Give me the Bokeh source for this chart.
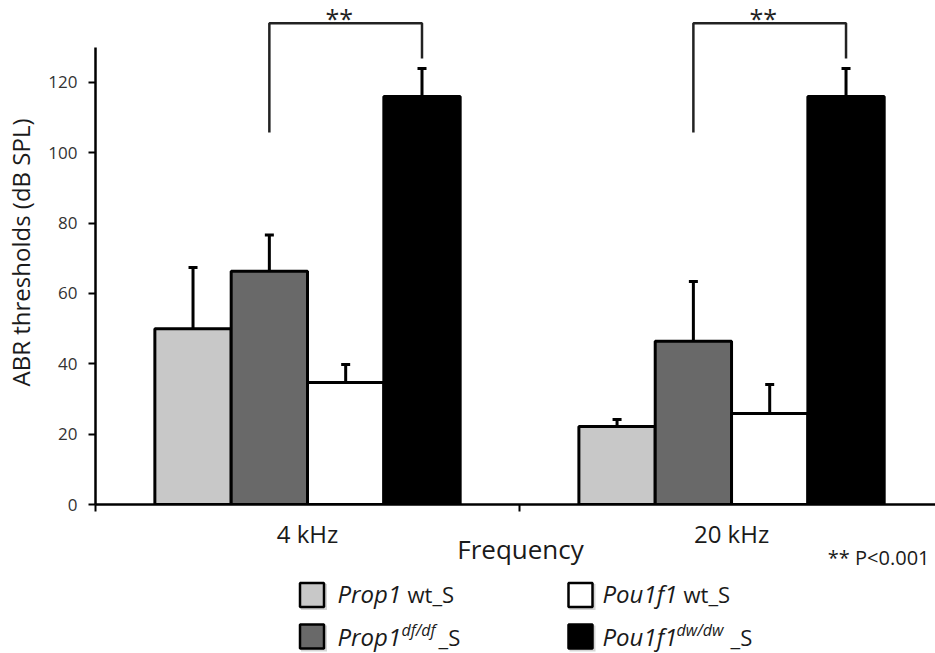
from bokeh.plotting import figure
from bokeh.models import Range1d, FixedTicker, ColumnDataSource, Whisker, TeeHead
from bokeh.layouts import column
from bokeh.embed import file_html
from bokeh.resources import INLINE
from bokeh.core.properties import value

# ---------------- data ----------------
frequencies = ["4 kHz", "20 kHz"]
series_names = ["Prop1 wt_S", "Prop1 df/df_S", "Pou1f1 wt_S", "Pou1f1 dw/dw_S"]
prop1_wt = [50.0, 22.2]
prop1_wt_err = [17.4, 2.0]
prop1_df = [66.3, 46.4]
prop1_df_err = [10.3, 17.0]
pou1f1_wt = [34.7, 25.9]
pou1f1_wt_err = [5.1, 8.2]
pou1f1_dw = [116.0, 116.0]
pou1f1_dw_err = [8.0, 8.0]
y_ticks = [0, 20, 40, 60, 80, 100, 120]
sig_text = "**"
p_note = "** P<0.001"
x_title = "Frequency"
y_title = "ABR thresholds (dB SPL)"
# significance bracket (data units): left leg bottom, top, right leg bottom
bracket_left_bottom = 105.8
bracket_top = 136.8
bracket_right_bottom = 126.8

values = [prop1_wt, prop1_df, pou1f1_wt, pou1f1_dw]
errors = [prop1_wt_err, prop1_df_err, pou1f1_wt_err, pou1f1_dw_err]

# ---------------- style / layout ----------------
FONT = "Open Sans"
TXT = "#1a1a1a"
colors = ["#c8c8c8", "#696969", "#ffffff", "#000000"]
offsets = [-0.27, -0.09, 0.09, 0.27]
bar_width = 0.18
n_cat = len(frequencies)
centers = [i + 0.5 for i in range(n_cat)]
boundaries = [float(i) for i in range(n_cat + 1)]

W = 935
FRAME_L = 95
TICK_OUT = 7
BOTTOM = 12            # room below the axis line (ticks + the "0" label)
MAIN_H = 504 + BOTTOM
FOOT_H = 653 - MAIN_H
X_END = 1.981
PX_PER_X = (W - FRAME_L) / X_END


def px_to_x(px):
    """convert a page pixel column (layout only) into the shared x data scale"""
    return (px - FRAME_L) / PX_PER_X


xr = Range1d(0, X_END)
p = figure(width=W, height=MAIN_H, x_range=xr, y_range=Range1d(0, 143.3),
           output_backend="svg", toolbar_location=None,
           min_border_left=FRAME_L, min_border_right=0, min_border_top=0, min_border_bottom=BOTTOM)
p.outline_line_color = None
p.xgrid.visible = False
p.ygrid.visible = False

for i in range(4):
    xs = [c + offsets[i] for c in centers]
    src = ColumnDataSource(dict(x=xs, top=values[i],
                                upper=[v + e for v, e in zip(values[i], errors[i])]))
    p.vbar(x="x", top="top", width=bar_width, source=src, fill_color=colors[i],
           line_color="black", line_width=3)
    p.add_layout(Whisker(base="x", lower="top", upper="upper", source=src,
                         line_width=3, line_color="black",
                         upper_head=TeeHead(size=9, line_width=3, line_color="black"),
                         lower_head=None, level="glyph"))

# significance brackets between series 2 and series 4 in each group
bx = [[c + offsets[1], c + offsets[1], c + offsets[3], c + offsets[3]] for c in centers]
by = [[bracket_left_bottom, bracket_top, bracket_top, bracket_right_bottom] for c in centers]
p.multi_line(xs=bx, ys=by, line_width=2.5, line_color="#222222")
p.text(x=[c + (offsets[1] + offsets[3]) / 2 - 0.015 for c in centers], y=[bracket_top + 1.4] * n_cat,
       text=[sig_text] * n_cat, text_align="center", text_baseline="middle",
       text_font=value(FONT), text_font_size="25px", text_color="#222222")

# axes
xa = p.xaxis[0]
xa.ticker = FixedTicker(ticks=boundaries, minor_ticks=[])
xa.major_label_overrides = {b: "" for b in boundaries}
xa.major_label_text_font_size = "0px"
xa.major_label_standoff = 0
xa.major_tick_out = TICK_OUT
xa.major_tick_in = 0
xa.major_tick_line_width = 2
xa.axis_line_width = 2.5

ya = p.yaxis[0]
ya.ticker = FixedTicker(ticks=y_ticks, minor_ticks=[])
ya.bounds = (0, 130)
ya.major_tick_out = 7
ya.major_tick_in = 0
ya.major_tick_line_width = 2
ya.axis_line_width = 2.5
ya.major_label_text_font = FONT
ya.major_label_text_font_size = "17px"
ya.major_label_text_color = "#333333"
ya.major_label_standoff = 11
ya.axis_label = y_title
ya.axis_label_text_font = FONT
ya.axis_label_text_font_size = "24px"
ya.axis_label_text_font_style = "normal"
ya.axis_label_text_color = TXT
ya.axis_label_standoff = 8

# ---------------- footer: category labels, axis title, note, legend ----------------
# shares the x scale of the chart; y is in page pixels
ft = figure(width=W, height=FOOT_H, x_range=xr, y_range=Range1d(653, MAIN_H),
            output_backend="svg", toolbar_location=None,
            x_axis_location=None, y_axis_location=None,
            min_border_left=FRAME_L, min_border_right=0, min_border_top=0, min_border_bottom=0)
ft.outline_line_color = None
ft.xgrid.visible = False
ft.ygrid.visible = False

ft.text(x=centers, y=[532.5] * n_cat, text=frequencies, text_align="center", text_baseline="middle",
        text_font=value(FONT), text_font_size="24px", text_color=TXT)
ft.text(x=[px_to_x(520)], y=[548], text=[x_title], text_align="center", text_baseline="middle",
        text_font=value(FONT), text_font_size="26px", text_color=TXT)
ft.text(x=[px_to_x(929)], y=[557], text=[p_note], text_align="right", text_baseline="middle",
        text_font=value(FONT), text_font_size="20px", text_color=TXT)

sq_px = [311.5, 311.5, 580, 580]
sq_y = [594.5, 636, 594.5, 636]
sq_w = 24 / PX_PER_X
ft.rect(x=[px_to_x(v + 2) for v in sq_px], y=[y + 2 for y in sq_y], width=26 / PX_PER_X, height=26,
        fill_color="#888888", fill_alpha=0.35, line_color=None)
ft.rect(x=[px_to_x(v) for v in sq_px], y=sq_y, width=sq_w, height=24, fill_color=colors,
        line_color="black", line_width=2.5)

row1 = 593
row2 = 636
ft.text(x=[px_to_x(v) for v in [337, 337, 602, 602]], y=[row1, row2, row1, row2],
        text=["Prop1", "Prop1", "Pou1f1", "Pou1f1"],
        text_font=value(FONT), text_font_style="italic", text_font_size="24px",
        text_baseline="middle", text_color=TXT)
ft.text(x=[px_to_x(v) for v in [407, 683]], y=[row1, row1], text=["wt_S", "wt_S"], text_font=value(FONT),
        text_font_size="22px", text_baseline="middle", text_color=TXT)
ft.text(x=[px_to_x(v) for v in [401, 676]], y=[629.5, 629.5], text=["df/df", "dw/dw"], text_font=value(FONT),
        text_font_style="italic", text_font_size="16px", text_baseline="middle", text_color=TXT)
ft.text(x=[px_to_x(v) for v in [438, 730]], y=[row2, row2], text=["_S", "_S"], text_font=value(FONT),
        text_font_size="22px", text_baseline="middle", text_color=TXT)

layout = column(p, ft, spacing=0)
open("out.html", "w").write(file_html(layout, INLINE))
